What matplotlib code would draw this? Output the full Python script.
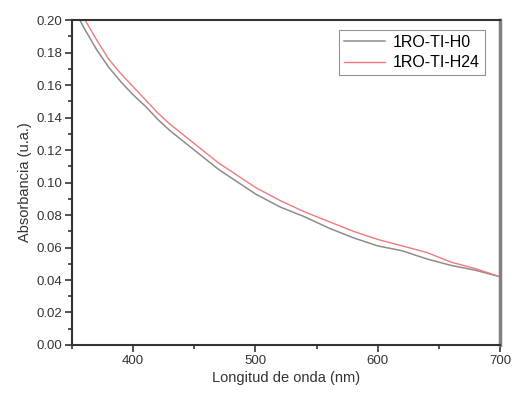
import matplotlib
matplotlib.use('Agg')
from matplotlib import pyplot as plt
from matplotlib.ticker import MultipleLocator

plt.rcParams['font.family'] = ['Liberation Sans', 'DejaVu Sans']

wavelength = [350, 360, 370, 380, 390, 400, 410, 420, 430, 440, 450, 460, 470, 480, 490,
              500, 520, 540, 560, 580, 600, 620, 640, 660, 680, 700]
h0 = [0.209, 0.195, 0.182, 0.171, 0.162, 0.154, 0.147, 0.139, 0.132, 0.126, 0.120, 0.114,
      0.108, 0.103, 0.098, 0.093, 0.085, 0.079, 0.072, 0.066, 0.061, 0.058, 0.053, 0.049,
      0.046, 0.042]
h24 = [0.216, 0.201, 0.188, 0.176, 0.167, 0.159, 0.151, 0.143, 0.136, 0.130, 0.124, 0.118,
       0.112, 0.107, 0.102, 0.097, 0.089, 0.082, 0.076, 0.070, 0.065, 0.061, 0.057, 0.051,
       0.047, 0.042]

fig = plt.figure(figsize=(5.16, 3.94), dpi=100)
ax = fig.add_axes([0.1395, 0.1244, 0.8295, 0.8246])

ax.plot(wavelength, h0, color='#8c8c8c', lw=1.1, label='1RO-TI-H0')
ax.plot(wavelength, h24, color='#f07a7a', lw=1.0, label='1RO-TI-H24')

ax.set_xlim(350, 700)
ax.set_ylim(0, 0.20)
ax.xaxis.set_minor_locator(MultipleLocator(50))
ax.yaxis.set_minor_locator(MultipleLocator(0.01))
ax.set_xticks([400, 500, 600, 700])
ax.set_yticks([i * 0.02 for i in range(11)])
ax.set_yticklabels([f'{i * 0.02:.2f}' for i in range(11)])
ax.tick_params(which='major', direction='out', length=5, width=1.2, labelsize=9.5,
               colors='#333333', pad=2)
ax.tick_params(which='minor', direction='out', length=3, width=1.2, colors='#333333')
ax.tick_params(top=False, right=False)
for s in ax.spines.values():
    s.set_linewidth(1.5)
    s.set_color('#333333')
ax.spines['right'].set_color('#808080')
ax.spines['right'].set_linewidth(2.5)

ax.set_xlabel('Longitud de onda (nm)', fontsize=10.5, color='#333333', labelpad=3)
ax.set_ylabel('Absorbancia (u.a.)', fontsize=10.5, color='#333333', labelpad=3)

leg = ax.legend(loc='upper right', fontsize=11.5, frameon=True, fancybox=False,
                edgecolor='#777777', handlelength=2.6, handletextpad=0.5,
                borderpad=0.3, labelspacing=0.35, borderaxespad=0,
                bbox_to_anchor=(0.965, 0.97))
leg.get_frame().set_linewidth(0.8)

plt.savefig('out.png', dpi=100)
